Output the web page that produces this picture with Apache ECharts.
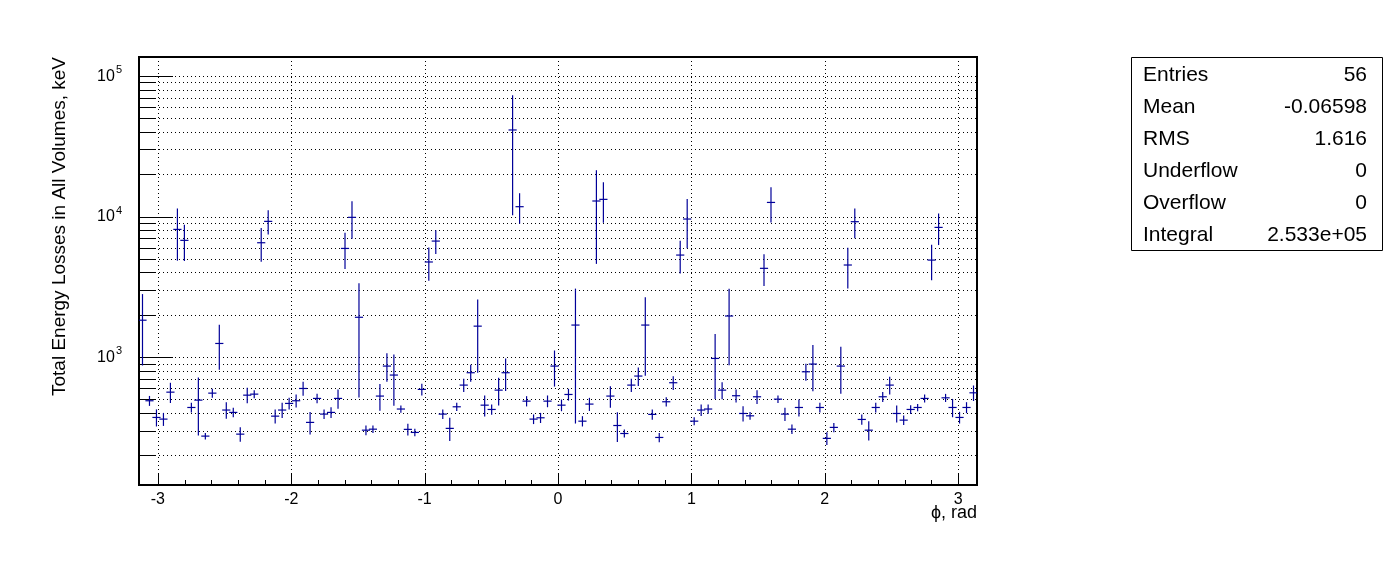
<!DOCTYPE html>
<html><head><meta charset="utf-8">
<script src="https://cdn.jsdelivr.net/npm/echarts@6/dist/echarts.min.js"></script>
<style>html,body{margin:0;padding:0;background:#fff}#c{width:1396px;height:572px}</style>
</head><body><div id="c"></div>
<script>
// ---- histogram definition ----
const X_MIN = -Math.PI, X_MAX = Math.PI, N_BINS = 120;
const Y_MIN = 123, Y_MAX = 136500;

// bin contents (keV) and their errors
const binValues = [
  1830, 489, 372, 362, 563, 8100, 6770, 438, 494, 274,
  554, 1250, 420, 404, 283, 536, 545, 6510, 9240, 380,
  420, 468, 489, 598, 343, 508, 393, 404, 508, 5930,
  9870, 1920, 302, 307, 528, 863, 745, 427, 306, 291,
  589, 4750, 6690, 393, 311, 443, 632, 774, 1660, 455,
  424, 582, 774, 41300, 11750, 486, 362, 370, 486, 863,
  455, 542, 1690, 350, 463, 12900, 13250, 528, 326, 286,
  632, 733, 1690, 391, 268, 481, 657, 5320, 9600, 350,
  420, 427, 978, 582, 1960, 531, 397, 382, 522, 4280,
  12600, 502, 393, 307, 438, 786, 892, 438, 264, 316,
  863, 4520, 9190, 360, 302, 438, 522, 632, 397, 356,
  424, 438, 508, 4900, 8370, 513, 438, 372, 438, 557
];
const binErrors = [
  950, 35, 48, 35, 87, 3200, 1900, 30, 215, 12,
  35, 430, 53, 27, 31, 62, 31, 1700, 1730, 40,
  48, 40, 47, 62, 59, 34, 27, 32, 74, 1660,
  2850, 1400, 21, 16, 108, 190, 290, 21, 26, 15,
  50, 1220, 1230, 27, 56, 25, 62, 100, 880, 73,
  31, 125, 195, 31000, 2760, 36, 25, 27, 42, 240,
  39, 47, 1350, 26, 45, 8250, 4140, 87, 75, 16,
  62, 103, 945, 29, 18, 32, 67, 1350, 3600, 20,
  35, 28, 470, 75, 1075, 51, 46, 20, 54, 1050,
  3430, 26, 38, 21, 56, 101, 314, 30, 25, 21,
  310, 1410, 2100, 27, 44, 30, 38, 85, 51, 24,
  26, 22, 28, 1340, 2040, 29, 61, 32, 35, 65
];

// axis ticks
const xMajorTicks = [-3, -2, -1, 0, 1, 2, 3];
const xMinorTicks = [-2.8, -2.6, -2.4, -2.2, -1.8, -1.6, -1.4, -1.2, -0.8, -0.6, -0.4, -0.2,
                     0.2, 0.4, 0.6, 0.8, 1.2, 1.4, 1.6, 1.8, 2.2, 2.4, 2.6, 2.8];
const yMajorTicks = [1000, 10000, 100000];
const yMinorTicks = [200, 300, 400, 500, 600, 700, 800, 900,
                     2000, 3000, 4000, 5000, 6000, 7000, 8000, 9000,
                     20000, 30000, 40000, 50000, 60000, 70000, 80000, 90000];

// statistics box
const statLabels = ['Entries', 'Mean', 'RMS', 'Underflow', 'Overflow', 'Integral'];
const statValues = ['56', '-0.06598', '1.616', '0', '0', '2.533e+05'];

const xTitle = '\u03D5, rad';
const yTitle = 'Total Energy Losses in All Volumes, keV';

const FONT = '"Liberation Sans", Arial, Helvetica, sans-serif';
const COLOR = '#000099';
const binW = (X_MAX - X_MIN) / N_BINS;

const barData = binValues.map((v, i) => [X_MIN + (i + 0.5) * binW, v, binErrors[i]]);

const gridData = []
  .concat(yMajorTicks.concat(yMinorTicks).map(v => [X_MIN, v, 0]))
  .concat(xMajorTicks.map(v => [v, Y_MIN, 1]));

const tickData = []
  .concat(yMajorTicks.map(v => [X_MIN, v, 0, 34]))
  .concat(yMinorTicks.map(v => [X_MIN, v, 0, 17]))
  .concat(xMajorTicks.map(v => [v, Y_MIN, 1, 11]))
  .concat(xMinorTicks.map(v => [v, Y_MIN, 1, 5]));

const chart = echarts.init(document.getElementById('c'), null, {renderer: 'canvas'});

const graphics = [
  {type: 'text', x: 60, y: 57, rotation: Math.PI / 2,
   style: {text: yTitle, font: '19px ' + FONT, fill: '#000', textAlign: 'right', textVerticalAlign: 'middle'}},
  {type: 'text', x: 977, y: 513,
   style: {text: xTitle, font: '18px ' + FONT, fill: '#000', textAlign: 'right', textVerticalAlign: 'middle'}},
  {type: 'rect', shape: {x: 1131.5, y: 57.5, width: 251, height: 193},
   style: {fill: '#fff', stroke: '#000', lineWidth: 1}}
];
statLabels.forEach((t, k) => {
  graphics.push({type: 'text', x: 1143, y: 75 + k * 32,
    style: {text: t, font: '21px ' + FONT, fill: '#000', textAlign: 'left', textVerticalAlign: 'middle'}});
  graphics.push({type: 'text', x: 1367, y: 75 + k * 32,
    style: {text: statValues[k], font: '21px ' + FONT, fill: '#000', textAlign: 'right', textVerticalAlign: 'middle'}});
});

chart.setOption({
  animation: false,
  backgroundColor: '#fff',
  grid: {left: 139, top: 57, width: 838, height: 428, show: true,
         borderColor: '#000', borderWidth: 2, backgroundColor: 'transparent'},
  xAxis: {
    type: 'value', min: X_MIN, max: X_MAX, splitNumber: 6,
    axisLine: {show: false}, axisTick: {show: false}, splitLine: {show: false},
    axisLabel: {
      color: '#000', fontFamily: FONT, fontSize: 16, margin: 7,
      formatter: v => {
        const r = Math.round(v);
        return (Math.abs(v - r) < 1e-6 && xMajorTicks.indexOf(r) >= 0) ? String(r) : '';
      }
    }
  },
  yAxis: {
    type: 'log', logBase: 10, min: Y_MIN, max: Y_MAX,
    axisLine: {show: false}, axisTick: {show: false}, splitLine: {show: false},
    axisLabel: {
      color: '#000', margin: 17,
      formatter: v => {
        const e = Math.log10(v), r = Math.round(e);
        return Math.abs(e - r) < 1e-6 ? '{b|10}{s|' + r + '}' : '';
      },
      rich: {
        b: {fontFamily: FONT, fontSize: 16, color: '#000', verticalAlign: 'bottom', padding: [0, 0, 3, 0]},
        s: {fontFamily: FONT, fontSize: 11, color: '#000', verticalAlign: 'bottom', padding: [0, 0, 12, 1]}
      }
    }
  },
  graphic: graphics,
  series: [
    {
      type: 'custom', name: 'grid', silent: true, z: 1,
      data: gridData,
      renderItem: (params, api) => {
        const cs = params.coordSys;
        const p = api.coord([api.value(0), api.value(1)]);
        const horiz = api.value(2) === 0;
        const shape = horiz
          ? {x1: cs.x, y1: Math.round(p[1]) + 0.5, x2: cs.x + cs.width, y2: Math.round(p[1]) + 0.5}
          : {x1: Math.round(p[0]) + 0.5, y1: cs.y, x2: Math.round(p[0]) + 0.5, y2: cs.y + cs.height};
        return {type: 'line', shape, style: {stroke: '#000', lineWidth: 1, lineDash: [1, 3]}};
      }
    },
    {
      type: 'custom', name: 'ticks', silent: true, z: 2,
      data: tickData,
      renderItem: (params, api) => {
        const p = api.coord([api.value(0), api.value(1)]);
        const len = api.value(3);
        const shape = api.value(2) === 0
          ? {x1: p[0], y1: Math.round(p[1]) + 0.5, x2: p[0] + len, y2: Math.round(p[1]) + 0.5}
          : {x1: Math.round(p[0]) + 0.5, y1: p[1], x2: Math.round(p[0]) + 0.5, y2: p[1] - len};
        return {type: 'line', shape, style: {stroke: '#000', lineWidth: 1}};
      }
    },
    {
      type: 'custom', name: 'energy', z: 3, clip: true,
      data: barData,
      encode: {x: 0, y: 1},
      renderItem: (params, api) => {
        const x = api.value(0), v = api.value(1), e = api.value(2);
        const c = api.coord([x, v]);
        const l = api.coord([x - binW / 2, v]);
        const r = api.coord([x + binW / 2, v]);
        const top = api.coord([x, v + e]);
        const bot = api.coord([x, Math.max(v - e, Y_MIN)]);
        const st = {stroke: COLOR, lineWidth: 1.2, lineCap: 'square'};
        return {type: 'group', children: [
          {type: 'line', shape: {x1: l[0], y1: c[1], x2: r[0], y2: c[1]}, style: st},
          {type: 'line', shape: {x1: c[0], y1: top[1], x2: c[0], y2: bot[1]}, style: st}
        ]};
      }
    }
  ]
});
</script>
</body></html>
